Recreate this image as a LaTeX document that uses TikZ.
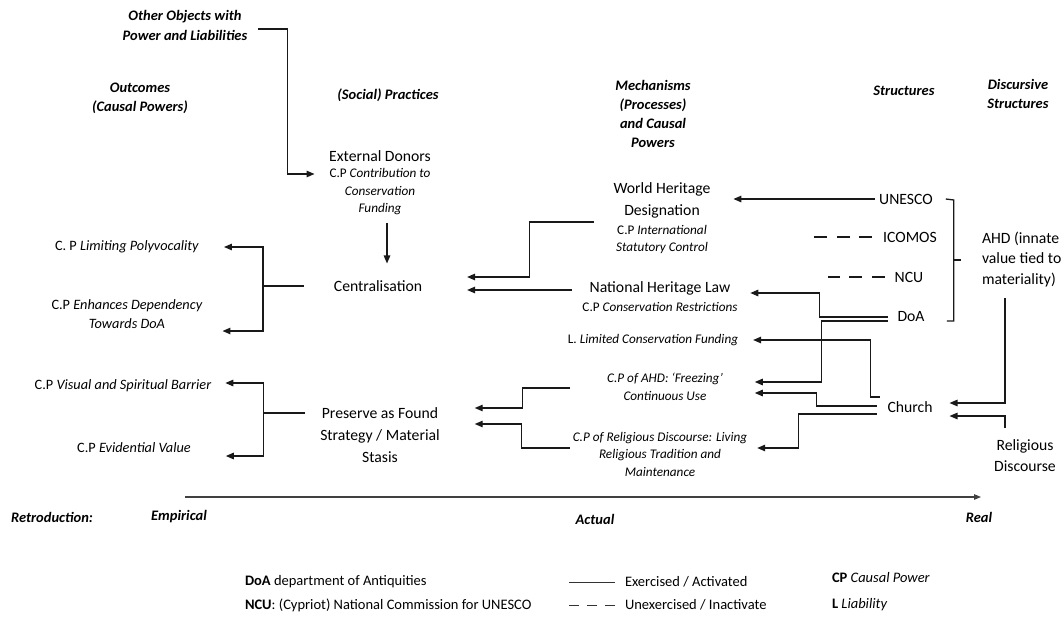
\documentclass[tikz,border=0pt]{standalone}
\usepackage{fontspec}
\setmainfont{Carlito}
\usetikzlibrary{arrows.meta}
\begin{document}
\begin{tikzpicture}[x=1pt,y=-1pt,
  every node/.style={inner sep=0pt,outer sep=0pt},
  hdr/.style={font=\fontsize{14.5}{19.3}\selectfont\bfseries\itshape,align=center},
  mainlbl/.style={font=\fontsize{15.7}{21.5}\selectfont,align=center},
  cplbl/.style={font=\fontsize{13.2}{17.5}\selectfont,align=center},
  outlbl/.style={font=\fontsize{14.3}{19}\selectfont,align=center},
  leg/.style={font=\fontsize{14.5}{18}\selectfont,anchor=west},
  conn/.style={line width=1.3pt,black!90},
  arr/.style={conn,-{Triangle[length=8pt,width=6.5pt]}},
  dashedconn/.style={conn,dash pattern=on 13pt off 9.5pt},
]
\useasboundingbox (0,0) rectangle (1062,621);

% headers
\node[hdr] (other) at (185,25.5) {Other Objects with\\Power and Liabilities};
\node[hdr] (outc) at (140,98) {Outcomes\\(Causal Powers)};
\node[hdr] (soc) at (388,95) {(Social) Practices};
\node[hdr] (mech) at (653,114) {Mechanisms\\(Processes)\\and Causal\\Powers};
\node[hdr] (struct) at (904,91) {Structures};
\node[hdr] (disc) at (1018,94) {Discursive\\Structures};

% practices
\node[mainlbl] (ed) at (380,156) {External Donors};
\node[cplbl] (edcp) at (380,192) {C.P \textit{Contribution to}\\\textit{Conservation}\\\textit{Funding}};
\node[mainlbl] (cent) at (378,286) {Centralisation};
\node[mainlbl,font=\fontsize{15.7}{22}\selectfont] (paf) at (380,435) {Preserve as Found\\Strategy / Material\\Stasis};

% mechanisms
\node[mainlbl] (whd) at (662,200.5) {World Heritage\\Designation};
\node[cplbl] (whdcp) at (662,239.5) {C.P \textit{International}\\\textit{Statutory Control}};
\node[mainlbl] (nhl) at (660,288) {National Heritage Law};
\node[cplbl] (nhlcp) at (660,307) {C.P \textit{Conservation Restrictions}};
\node[cplbl] (lcf) at (653,340) {L. \textit{Limited Conservation Funding}};
\node[cplbl] (ahd1) at (665,387) {\textit{C.P of AHD: ‘Freezing’}\\\textit{Continuous Use}};
\node[cplbl] (rel1) at (660,454) {\textit{C.P of Religious Discourse: Living}\\\textit{Religious Tradition and}\\\textit{Maintenance}};

% outcomes
\node[outlbl] (o1) at (127,247) {C. P \textit{Limiting Polyvocality}};
\node[outlbl] (o2) at (127,314.5) {C.P \textit{Enhances Dependency}\\\textit{Towards DoA}};
\node[outlbl] (o3) at (123,386) {C.P \textit{Visual and Spiritual Barrier}};
\node[outlbl] (o4) at (134,448) {C.P \textit{Evidential Value}};

% structures
\node[mainlbl] (unesco) at (906,199) {UNESCO};
\node[mainlbl] (icomos) at (910,237) {ICOMOS};
\node[mainlbl] (ncu) at (909,277) {NCU};
\node[mainlbl] (doa) at (911,317) {DoA};
\node[mainlbl] (church) at (910,407) {Church};
\node[mainlbl,align=left,anchor=west,font=\fontsize{15.7}{20.5}\selectfont] (ahd) at (982,259.5) {AHD (innate\\value tied to\\materiality)};
\node[mainlbl,font=\fontsize{15.7}{21}\selectfont] (reldisc) at (1025,455.5) {Religious\\Discourse};

% axis labels
\node[hdr] (retro) at (52,517) {Retroduction:};
\node[hdr] (emp) at (179,517) {Empirical};
\node[hdr] (act) at (595,519) {Actual};
\node[hdr] (real) at (979,517) {Real};

% legend
\node[leg] (lg1) at (245,582) {\textbf{DoA} department of Antiquities};
\node[leg] (lg2) at (245,605) {\textbf{NCU}: (Cypriot) National Commission for UNESCO};
\node[leg] (lg3) at (625,582) {Exercised / Activated};
\node[leg] (lg4) at (625,605) {Unexercised /  Inactivate};
\node[leg] (lg5) at (832,578) {\textbf{CP} \textit{Causal Power}};
\node[leg] (lg6) at (832,605) {\textbf{L} \textit{Liability}};

% connectors
\draw[arr] ([xshift=11pt,yshift=-3.5pt]other.east) -- ++(29,0) |- ([xshift=-15pt,yshift=18pt]edcp.west);
\draw[arr] ([xshift=7pt,yshift=-8pt]edcp.south) -- ([xshift=9pt,yshift=17pt]cent.north);
\draw[arr] ([xshift=-20pt,yshift=-21.5pt]whd.west) -- ++(-64,0) |- ([xshift=45pt,yshift=9pt]cent.east);
\draw[arr] ([xshift=-18pt,yshift=-2pt]nhl.west) -- ([xshift=45pt,yshift=-4pt]cent.east);

\draw[conn] ([xshift=-30pt]cent.west) -- ++(-41,0) coordinate (j1);
\draw[arr] (j1) |- ([xshift=25pt]o1.east);
\draw[arr] (j1) |- ([xshift=20pt,yshift=-16.5pt]o2.east);

\draw[conn] ([xshift=-15pt,yshift=22pt]paf.west) -- ++(-42,0) coordinate (j2);
\draw[arr] (j2) |- ([xshift=14pt,yshift=3pt]o3.east);
\draw[arr] (j2) |- ([xshift=35pt,yshift=-8pt]o4.east);

\draw[arr] ([xshift=-37pt,yshift=-1pt]ahd1.west) -- ++(-48,0) |- ([xshift=35pt,yshift=27pt]paf.east);
\draw[arr] ([xshift=-3pt,yshift=6pt]rel1.west) -- ++(-48,0) |- ([xshift=35pt,yshift=11pt]paf.east);

\draw[arr] ([xshift=-4pt]unesco.west) -- ([xshift=23pt,yshift=1.5pt]whd.east);
\draw[dashedconn] ([xshift=-11pt]icomos.west) -- ++(-59,0);
\draw[dashedconn] ([xshift=-10pt]ncu.west) -- ++(-57,0);

\draw[arr] ([xshift=-10pt]doa.west) -- ++(-68,0) |- ([xshift=20pt,yshift=-5pt]nhl.east);
\draw[arr] ([xshift=-10pt,yshift=-4pt]doa.west) -- ++(-66,0) |- ([xshift=32pt,yshift=5pt]ahd1.east);

\draw[arr] ([xshift=-8pt,yshift=10pt]church.west) -- ++(-9,0) |- ([xshift=15pt]lcf.east);
\draw[arr] ([xshift=-11pt,yshift=1pt]church.west) -- ++(-60,0) |- ([xshift=32pt,yshift=-6pt]ahd1.east);
\draw[arr] ([xshift=-11pt,yshift=-7pt]church.west) -- ++(-78,0) |- ([xshift=10pt,yshift=6pt]rel1.east);

\draw[arr] ([xshift=23pt,yshift=-38.5pt]ahd.west) |- ([xshift=17pt,yshift=4pt]church.east);
\draw[arr] ([xshift=-20pt,yshift=27.5pt]reldisc.center) |- ([xshift=17pt,yshift=-9pt]church.east);

% bracket grouping the structures
\draw[conn] ([xshift=13pt]unesco.east) -- ++(8,1) -- ++(0,121) -- ++(-7,0);
\draw[conn] (954,260) -- ++(7,0);

% retroduction axis
\coordinate (axs) at (185,497);
\coordinate (axe) at (981,497);
\draw[line width=1.1pt,black!75,-{Triangle[length=7pt,width=5.5pt]}] (axs) -- (axe);

% legend lines
\draw[line width=0.9pt,black!80] ([xshift=-10pt]lg3.west) -- ++(-46,0);
\draw[line width=0.9pt,black!80,dash pattern=on 10pt off 8pt] ([xshift=-10pt]lg4.west) -- ++(-46,0);
\end{tikzpicture}
\end{document}
